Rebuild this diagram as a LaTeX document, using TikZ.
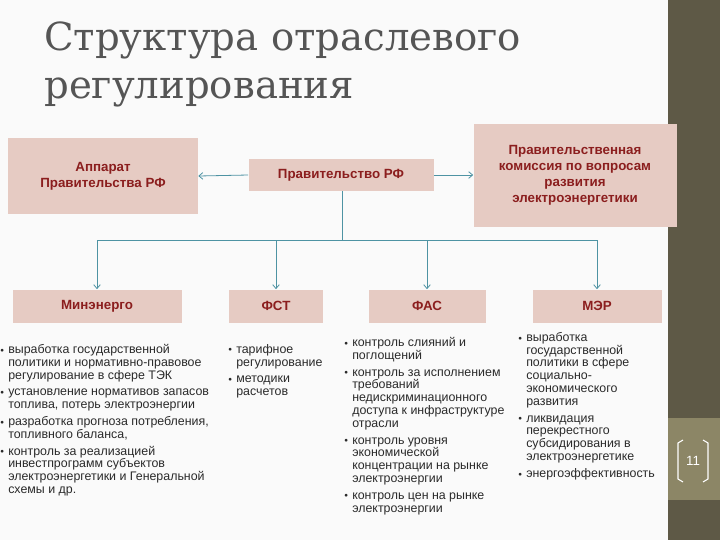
\documentclass[tikz,border=0pt]{standalone}
\usepackage{fontspec}
\setmainfont{Liberation Sans}
\newfontfamily\titlefont{DejaVu Serif}
\usetikzlibrary{arrows.meta}
\definecolor{boxfill}{HTML}{E6CBC3}
\definecolor{boxtext}{HTML}{8B1E1E}
\definecolor{conn}{HTML}{4E93A3}
\definecolor{olive}{HTML}{5E5946}
\definecolor{oliveL}{HTML}{8C8666}
\definecolor{bodytext}{HTML}{2A2A2A}
\definecolor{titlegray}{HTML}{555555}
\tikzset{
  box/.style={fill=boxfill,draw=none,font=\bfseries\fontsize{10}{12}\selectfont,text=boxtext,align=center,inner sep=0pt},
  conline/.style={draw=conn,line width=0.6pt},
  arr/.style={conline,-{Straight Barb[length=3pt,width=5pt]}},
  blist/.style={anchor=north west,font=\fontsize{9.3}{9.6}\selectfont,text=bodytext,align=left,inner sep=0pt}
}
\newcommand{\bul}{\makebox[6pt][l]{\raisebox{1pt}{\scalebox{0.6}{$\bullet$}}}}
\begin{document}
\begin{tikzpicture}[x=0.75pt,y=-0.75pt]
\useasboundingbox (0,0) rectangle (720,540);
\fill[white!96!gray] (0,0) rectangle (720,540);
\fill[olive] (668,0) rectangle (720,540);
\fill[oliveL] (668,418) rectangle (720,500);
\node[anchor=center,text=white,font=\fontsize{10}{12}\selectfont] (pg) at (693,461) {11};
\draw[white,line width=0.8pt] (683,440) -- (678,443) -- (678,479) -- (683,482);
\draw[white,line width=0.8pt] (703,440) -- (708,443) -- (708,479) -- (703,482);
\node[anchor=north west,align=left,text=titlegray,font=\titlefont\fontsize{29}{36}\selectfont,inner sep=0pt] (title) at (44,22) {Структура отраслевого\\регулирования};
\node[box,minimum width=190*0.75pt,minimum height=76*0.75pt] (app) at (103,176) {Аппарат\\Правительства РФ};
\node[box,minimum width=185*0.75pt,minimum height=32*0.75pt] (gov) at (341,175) {Правительство РФ};
\node[box,minimum width=203*0.75pt,minimum height=103*0.75pt] (com) at (575,175) {Правительственная\\комиссия по вопросам\\развития\\электроэнергетики};
\node[box,minimum width=169*0.75pt,minimum height=33*0.75pt] (me) at (97,306) {Минэнерго};
\node[box,minimum width=94*0.75pt,minimum height=33*0.75pt] (fst) at (276,306) {ФСТ};
\node[box,minimum width=117*0.75pt,minimum height=33*0.75pt] (fas) at (427,306) {ФАС};
\node[box,minimum width=129*0.75pt,minimum height=33*0.75pt] (mer) at (597,306) {МЭР};
\draw[arr] (gov.west) -- (app.east);
\draw[arr] (gov.east) -- (com.west);
\coordinate (j) at (342,240);
\draw[conline] (gov.south -| j) -- (j);
\draw[conline] (97,240) -- (597,240);
\draw[arr] (97,240) -- (me.north);
\draw[arr] (276,240) -- (fst.north);
\draw[arr] (427,240) -- (fas.north);
\draw[arr] (597,240) -- (mer.north);
\node[blist] (l1) at (0,344) {\bul выработка государственной\\\hspace*{6pt}политики и нормативно-правовое\\\hspace*{6pt}регулирование в сфере ТЭК\\[3pt]
\bul установление нормативов запасов\\\hspace*{6pt}топлива, потерь электроэнергии\\[3pt]
\bul разработка прогноза потребления,\\\hspace*{6pt}топливного баланса,\\[3pt]
\bul контроль за реализацией\\\hspace*{6pt}инвестпрограмм субъектов\\\hspace*{6pt}электроэнергетики и Генеральной\\\hspace*{6pt}схемы и др.};
\node[blist] (l2) at (228,344) {\bul тарифное\\\hspace*{6pt}регулирование\\[3pt]
\bul методики\\\hspace*{6pt}расчетов};
\node[blist] (l3) at (344,337) {\bul контроль слияний и\\\hspace*{6pt}поглощений\\[3pt]
\bul контроль за исполнением\\\hspace*{6pt}требований\\\hspace*{6pt}недискриминационного\\\hspace*{6pt}доступа к инфраструктуре\\\hspace*{6pt}отрасли\\[3pt]
\bul контроль уровня\\\hspace*{6pt}экономической\\\hspace*{6pt}концентрации на рынке\\\hspace*{6pt}электроэнергии\\[3pt]
\bul контроль цен на рынке\\\hspace*{6pt}электроэнергии};
\node[blist] (l4) at (518,332) {\bul выработка\\\hspace*{6pt}государственной\\\hspace*{6pt}политики в сфере\\\hspace*{6pt}социально-\\\hspace*{6pt}экономического\\\hspace*{6pt}развития\\[3pt]
\bul ликвидация\\\hspace*{6pt}перекрестного\\\hspace*{6pt}субсидирования в\\\hspace*{6pt}электроэнергетике\\[3pt]
\bul энергоэффективность};
\end{tikzpicture}
\end{document}
